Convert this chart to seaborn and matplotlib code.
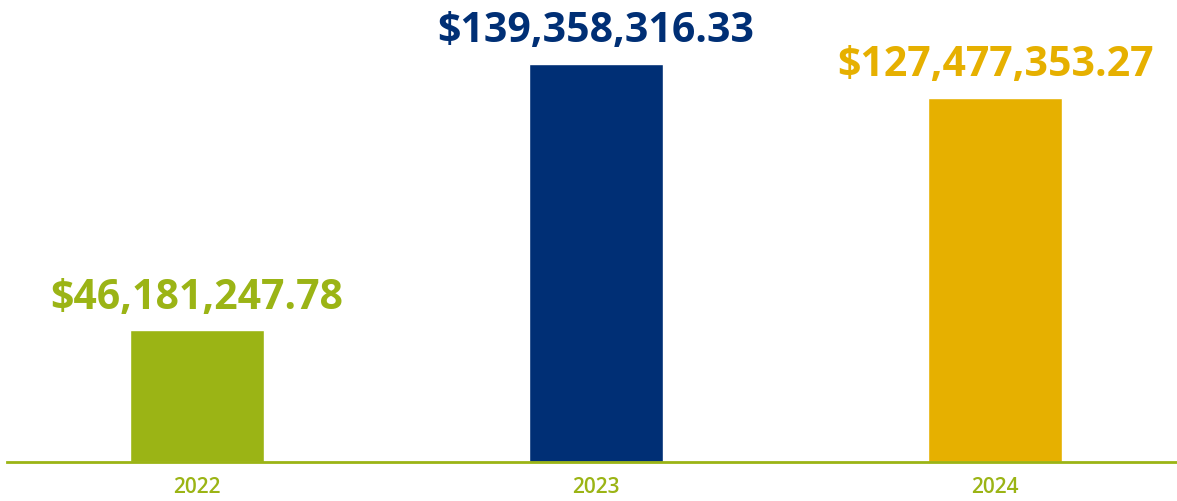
import matplotlib.pyplot as plt
import seaborn as sns
import pandas as pd

years = ["2022", "2023", "2024"]
amounts = [46181247.78, 139358316.33, 127477353.27]
colors = ["#9BB415", "#002F75", "#E6B000"]

df = pd.DataFrame({"year": years, "amount": amounts})

sns.set_style("white")
plt.rcParams["font.family"] = ["Open Sans", "DejaVu Sans"]

fig = plt.figure(figsize=(11.77, 5.02), dpi=100)
ax = fig.add_axes([7 / 1177, 39 / 502, 1170 / 1177, 463 / 502])

sns.barplot(data=df, x="year", y="amount", hue="year", palette=colors,
            width=0.336, legend=False, ax=ax, saturation=1)

ax.set_xlim(-0.476, 2.456)
ax.set_ylim(0, 162.1e6)

# value labels above each bar
for i, (v, c) in enumerate(zip(amounts, colors)):
    ax.annotate(f"${v:,.2f}", (i, v), xytext=(0, 9), textcoords="offset points",
                ha="center", va="bottom", fontsize=29.5, fontweight="bold", color=c)

for s in ["top", "right", "left"]:
    ax.spines[s].set_visible(False)
ax.spines["bottom"].set_color("#9BB415")
ax.spines["bottom"].set_linewidth(2)
ax.set_yticks([])
ax.set_xlabel("")
ax.set_ylabel("")
ax.tick_params(axis="x", length=0, pad=10, labelsize=15, labelcolor="#9BB415")
for t in ax.get_xticklabels():
    t.set_fontweight("semibold")

fig.savefig("out.png", dpi=100)
